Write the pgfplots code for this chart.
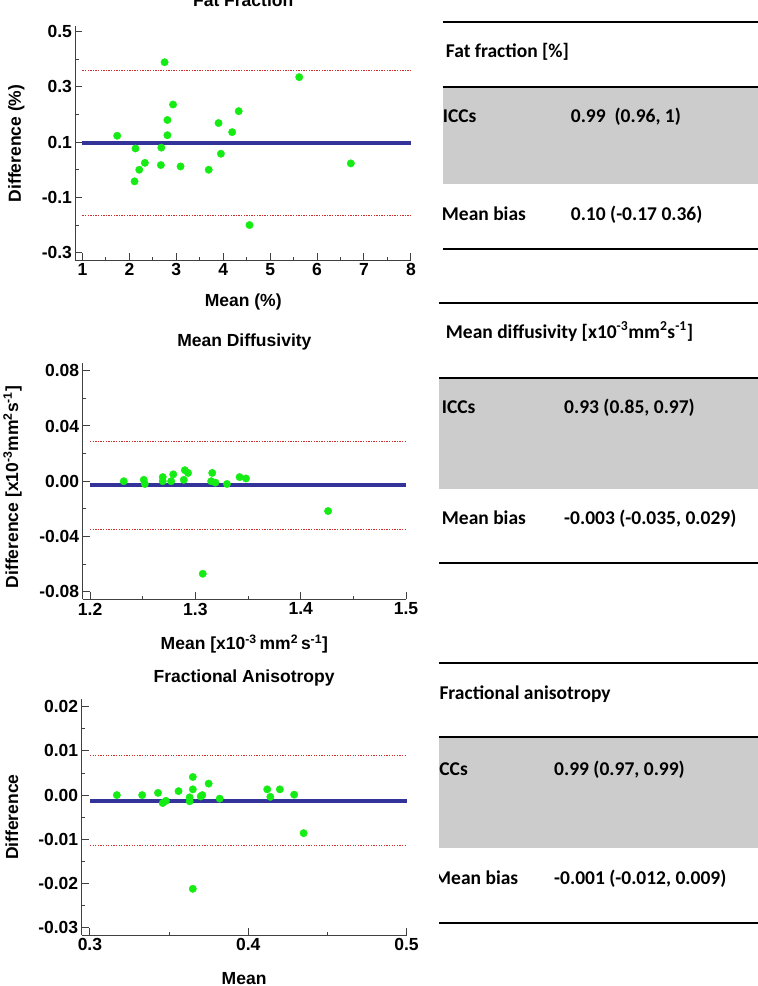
\documentclass[border=0pt]{standalone}
\usepackage{fontspec}
\setmainfont{Liberation Sans}
\newfontfamily\tabfont{Carlito}
\usepackage{pgfplots}
\pgfplotsset{compat=1.18}
\definecolor{bablue}{RGB}{51,51,153}
\definecolor{ptgreen}{RGB}{20,236,20}
\definecolor{loared}{RGB}{205,45,45}
\definecolor{axgray}{RGB}{64,64,64}
\definecolor{cellgray}{RGB}{204,204,204}
\newcommand{\pf}{\fontsize{17.5}{20}\selectfont\bfseries}
\newcommand{\tf}{\tabfont\fontsize{19.5}{22}\selectfont\bfseries}
\pgfplotsset{ba/.style={
  scale only axis, axis lines=left,
  axis line style={axgray, line width=1pt, -},
  tick style={axgray, line width=1pt},
  major tick length=7pt, minor tick length=3.5pt, tick align=inside,
  clip=false, scaled ticks=false,
  ticklabel style={font=\pf},
  /pgf/number format/assume math mode=true,
  label style={font=\pf},
  title style={font=\pf, anchor=base},
  xlabel style={anchor=base},
  ylabel style={anchor=base},
  bias/.style={bablue, line width=4pt},
  loa/.style={loared, line width=1pt, dash pattern=on 1.3pt off 1.3pt},
  pts/.style={only marks, mark=*, mark size=3.7pt, ptgreen, mark options={draw=ptgreen, fill=ptgreen}},
}}
\begin{document}
\begin{tikzpicture}[x=1pt,y=1pt]
% ---------- Table 1
\fill[cellgray] (443,-87) rectangle (758,-184);
\draw[line width=1.3pt] (443,-22) -- (758,-22);
\draw[line width=1.3pt] (443,-87) -- (758,-87);
\draw[line width=1.3pt] (443,-249) -- (758,-249);
\node[anchor=base west, inner sep=0, font=\tf] at (445.7,-57.3) {Fat fraction [\%]};
\node[anchor=base west, inner sep=0, font=\tf] at (442.7,-122.7) {ICCs};
\node[anchor=base west, inner sep=0, font=\tf] at (570.7,-122.7) {0.99\ \ (0.96, 1)};
\node[anchor=base west, inner sep=0, font=\tf] at (441.7,-220) {Mean bias};
\node[anchor=base west, inner sep=0, font=\tf] at (570.7,-220) {0.10 (-0.17 0.36)};
% ---------- Table 2
\fill[cellgray] (439.3,-378) rectangle (758,-489);
\draw[line width=1.3pt] (439.3,-303) -- (758,-303);
\draw[line width=1.3pt] (439.3,-378) -- (758,-378);
\draw[line width=1.3pt] (439.3,-563) -- (758,-563);
\node[anchor=base west, inner sep=0, font=\tf] at (445.7,-338) {Mean diffusivity [x10\textsuperscript{-3}mm\textsuperscript{2}s\textsuperscript{-1}]};
\node[anchor=base west, inner sep=0, font=\tf] at (441.7,-413) {ICCs};
\node[anchor=base west, inner sep=0, font=\tf] at (564,-413) {0.93 (0.85, 0.97)};
\node[anchor=base west, inner sep=0, font=\tf] at (441.7,-524) {Mean bias};
\node[anchor=base west, inner sep=0, font=\tf] at (564,-524) {-0.003 (-0.035, 0.029)};
% ---------- Table 3
\fill[cellgray] (439.3,-737) rectangle (758,-848);
\draw[line width=1.3pt] (439.3,-663) -- (758,-663);
\draw[line width=1.3pt] (439.3,-737) -- (758,-737);
\draw[line width=1.3pt] (439.3,-923) -- (758,-923);
\node[anchor=base west, inner sep=0, font=\tf] at (439.3,-699.3) {Fractional anisotropy};
\begin{scope}
\clip (439.3,-700) rectangle (758,-986);
\node[anchor=base west, inner sep=0, font=\tf] at (434,-775) {ICCs};
\node[anchor=base west, inner sep=0, font=\tf] at (434,-884) {Mean bias};
\end{scope}
\node[anchor=base west, inner sep=0, font=\tf] at (554,-775) {0.99 (0.97, 0.99)};
\node[anchor=base west, inner sep=0, font=\tf] at (554,-884) {-0.001 (-0.012, 0.009)};

% ---------- Plot 1: Fat Fraction
\begin{axis}[ba,
  at={(75.5pt,-260pt)}, anchor=south west,
  width=335.4pt, height=234pt,
  xmin=0.851, xmax=8, ymin=-0.3265, ymax=0.52,
  xtick={1,2,3,4,5,6,7,8}, minor xtick={1.5,2.5,3.5,4.5,5.5,6.5,7.5},
  ytick={-0.3,-0.1,0.1,0.3,0.5}, minor ytick={-0.2,0,0.2,0.4},
  yticklabel style={/pgf/number format/fixed, /pgf/number format/precision=1, /pgf/number format/fixed zerofill},
  title={Fat Fraction}, title style={at={(axis description cs:0.5,1.0568)}},
  xlabel={Mean (\%)}, xlabel style={at={(axis description cs:0.5,-0.1966)}},
  ylabel={Difference (\%)}, ylabel style={at={(axis description cs:-0.1625,0.498)}},
]
\addplot[loa] coordinates {(1,0.36) (8,0.36)};
\addplot[loa] coordinates {(1,-0.166) (8,-0.166)};
\addplot[bias] coordinates {(1,0.098) (8,0.098)};
\addplot[pts] coordinates {
(1.74,0.123) (2.13,0.077) (2.11,-0.042) (2.21,0.0) (2.33,0.025)
(2.75,0.389) (2.68,0.080) (2.67,0.017) (2.81,0.180) (2.81,0.125)
(2.93,0.236) (3.09,0.012) (3.69,0.0) (3.90,0.169) (3.95,0.058)
(4.19,0.136) (4.33,0.212) (4.56,-0.200) (5.62,0.335) (6.72,0.023)
};
\end{axis}

% ---------- Plot 2: Mean Diffusivity
\begin{axis}[ba,
  at={(82.7pt,-599.3pt)}, anchor=south west,
  width=323.3pt, height=236.3pt,
  xmin=1.193, xmax=1.5, ymin=-0.0855, ymax=0.0856,
  xtick={1.2,1.3,1.4,1.5}, minor xtick={1.25,1.35,1.45},
  ytick={-0.08,-0.04,0,0.04,0.08}, minor ytick={-0.06,-0.02,0.02,0.06},
  xticklabel style={/pgf/number format/fixed, /pgf/number format/precision=1, /pgf/number format/fixed zerofill},
  yticklabel style={/pgf/number format/fixed, /pgf/number format/precision=2, /pgf/number format/fixed zerofill},
  title={Mean Diffusivity}, title style={at={(axis description cs:0.5,1.0436)}},
  xlabel={Mean [x10\textsuperscript{-3}\,mm\textsuperscript{2}\,s\textsuperscript{-1}]}, xlabel style={at={(axis description cs:0.5,-0.2116)}},
  ylabel={Difference [x10\textsuperscript{-3}mm\textsuperscript{2}s\textsuperscript{-1}]}, ylabel style={at={(axis description cs:-0.200,0.475)}},
]
\addplot[loa] coordinates {(1.2,0.029) (1.5,0.029)};
\addplot[loa] coordinates {(1.2,-0.035) (1.5,-0.035)};
\addplot[bias] coordinates {(1.2,-0.003) (1.5,-0.003)};
\addplot[pts] coordinates {
(1.232,0.000) (1.251,0.001) (1.252,-0.002) (1.269,0.003) (1.269,0.000)
(1.279,0.005) (1.277,0.000) (1.290,0.008) (1.293,0.006) (1.289,0.001)
(1.316,0.006) (1.315,0.000) (1.319,-0.001) (1.330,-0.002) (1.342,0.003)
(1.348,0.002) (1.307,-0.067) (1.426,-0.0216)
};
\end{axis}

% ---------- Plot 3: Fractional Anisotropy
\begin{axis}[ba,
  at={(81.7pt,-935pt)}, anchor=south west,
  width=324.8pt, height=235.7pt,
  xmin=0.2948, xmax=0.5, ymin=-0.03165, ymax=0.02167,
  xtick={0.3,0.4,0.5}, minor xtick={0.35,0.45},
  ytick={-0.03,-0.02,-0.01,0,0.01,0.02}, minor ytick={-0.025,-0.015,-0.005,0.005,0.015},
  xticklabel style={/pgf/number format/fixed, /pgf/number format/precision=1, /pgf/number format/fixed zerofill},
  yticklabel style={/pgf/number format/fixed, /pgf/number format/precision=2, /pgf/number format/fixed zerofill},
  title={Fractional Anisotropy}, title style={at={(axis description cs:0.5,1.0467)}},
  xlabel={Mean}, xlabel style={at={(axis description cs:0.5,-0.212)}},
  ylabel={Difference}, ylabel style={at={(axis description cs:-0.196,0.5)}},
]
\addplot[loa] coordinates {(0.3,0.009) (0.5,0.009)};
\addplot[loa] coordinates {(0.3,-0.0115) (0.5,-0.0115)};
\addplot[bias] coordinates {(0.3,-0.0014) (0.5,-0.0014)};
\addplot[pts] coordinates {
(0.317,0.0000) (0.333,0.0000) (0.343,0.0005) (0.346,-0.0018) (0.348,-0.0013)
(0.356,0.0009) (0.365,0.0041) (0.365,0.0013) (0.363,-0.0005) (0.363,-0.0014)
(0.370,-0.0003) (0.371,0.0000) (0.375,0.0026) (0.382,-0.0008) (0.365,-0.0212)
(0.412,0.0013) (0.414,-0.0004) (0.420,0.0013) (0.429,0.0001) (0.435,-0.0086)
};
\end{axis}
\pgfresetboundingbox
\useasboundingbox (0,0) rectangle (758,-986);
\end{tikzpicture}
\end{document}
